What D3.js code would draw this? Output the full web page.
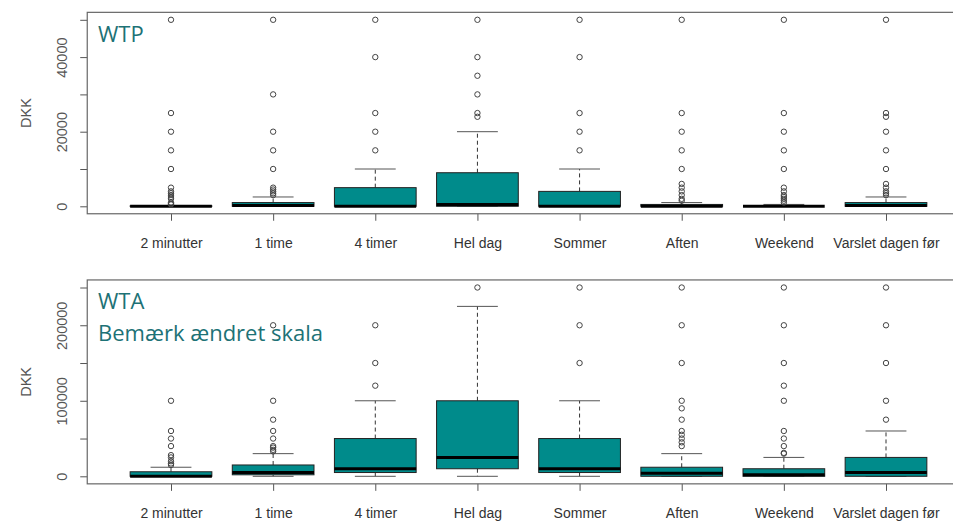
<!DOCTYPE html>
<html>
<head>
<meta charset="utf-8">
<script src="https://cdn.jsdelivr.net/npm/d3@7"></script>
<style>
  html, body { margin: 0; padding: 0; background: #fff; }
  svg { display: block; }
</style>
</head>
<body>
<svg id="chart" width="953" height="521"></svg>
<script>
// Categories shared by both panels
const categories = ["2 minutter", "1 time", "4 timer", "Hel dag", "Sommer", "Aften", "Weekend", "Varslet dagen før"];

// WTP: box statistics per category (DKK)
const wtpLow    = [0, 0, 0, 0, 0, 0, 0, 0];
const wtpQ1     = [0, 0, 0, 0, 0, 0, 0, 0];
const wtpMedian = [0, 200, 0, 500, 0, 0, 0, 200];
const wtpQ3     = [100, 1000, 5000, 9000, 4000, 500, 0, 1000];
const wtpHigh   = [200, 2500, 10000, 20000, 10000, 1000, 500, 2500];
const wtpOutliers = [
  [500, 700, 1000, 2000, 2500, 3000, 3500, 4000, 5000, 10000, 15000, 20000, 25000, 50000],
  [3000, 3500, 4000, 4500, 5000, 10000, 15000, 20000, 30000, 50000],
  [15000, 20000, 25000, 40000, 50000],
  [24000, 25000, 30000, 35000, 40000, 50000],
  [15000, 20000, 25000, 40000, 50000],
  [1500, 2000, 3000, 4000, 5000, 6000, 10000, 15000, 20000, 25000, 50000],
  [1000, 1500, 2000, 2500, 3000, 4000, 5000, 10000, 15000, 20000, 25000, 50000],
  [3000, 3500, 4000, 5000, 6000, 10000, 15000, 20000, 24000, 25000, 50000]
];
const wtpTicks = [0, 10000, 20000, 30000, 40000, 50000];
const wtpTickLabels = [0, 20000, 40000];

// WTA: box statistics per category (DKK)
const wtaLow    = [0, 0, 0, 0, 0, 0, 0, 0];
const wtaQ1     = [0, 2000, 5000, 10000, 5000, 0, 0, 0];
const wtaMedian = [0, 5000, 10000, 25000, 10000, 4000, 2000, 5000];
const wtaQ3     = [6000, 15000, 50000, 100000, 50000, 12000, 10000, 25000];
const wtaHigh   = [12000, 30000, 100000, 225000, 100000, 30000, 25000, 60000];
const wtaOutliers = [
  [15000, 17000, 20000, 25000, 28000, 40000, 50000, 60000, 100000],
  [33000, 35000, 38000, 40000, 50000, 60000, 75000, 100000, 200000],
  [120000, 150000, 200000],
  [250000],
  [150000, 200000, 250000],
  [40000, 45000, 50000, 55000, 60000, 75000, 90000, 100000, 150000, 200000, 250000],
  [30000, 31000, 40000, 50000, 60000, 100000, 120000, 150000, 200000, 250000],
  [75000, 100000, 150000, 200000, 250000]
];
const wtaTicks = [0, 50000, 100000, 150000, 200000, 250000];
const wtaTickLabels = [0, 100000, 200000];

const svg = d3.select("#chart");
const axisFont = "'Liberation Sans', Arial, sans-serif";
const titleFont = "'Open Sans', 'Noto Sans', sans-serif";
const teal = "#008B8B";
const titleColor = "#1d7276";

// Horizontal position of each category (box centres)
const x = d3.scalePoint().domain(categories).range([171, 886]);
const step = x.step();
const boxW = step * 0.8;
const frameLeft = x(categories[0]) - step * 0.82;
const frameRight = x(categories[categories.length - 1]) + step * 0.82;

function drawPanel(cfg) {
  const y = cfg.y;
  const g = svg.append("g");
  const yTop = y(cfg.frameMax), yBottom = y(cfg.frameMin);

  // y axis ticks and rotated labels
  const yAxis = d3.axisLeft(y)
    .tickValues(cfg.ticks)
    .tickSize(7)
    .tickFormat(d => cfg.tickLabels.includes(d) ? String(d) : "");
  const ya = g.append("g").attr("transform", `translate(${frameLeft},0)`).call(yAxis);
  ya.select(".domain").remove();
  ya.selectAll(".tick line").attr("stroke", "#555");
  ya.selectAll(".tick text")
    .attr("transform", "rotate(-90)")
    .attr("x", 0).attr("y", -20).attr("dy", 0)
    .style("text-anchor", "middle")
    .style("font-family", axisFont).style("font-size", "14.5px")
    .attr("fill", "#555");

  // x axis ticks and category labels
  const xAxis = d3.axisBottom(x).tickSize(7);
  const xa = g.append("g").attr("transform", `translate(0,${yBottom})`).call(xAxis);
  xa.select(".domain").remove();
  xa.selectAll(".tick line").attr("stroke", "#555");
  xa.selectAll(".tick text")
    .attr("y", 34).attr("dy", 0)
    .style("font-family", axisFont).style("font-size", "14px")
    .attr("fill", "#333");

  // axis title
  g.append("text")
    .attr("transform", `translate(31,${(yTop + yBottom) / 2}) rotate(-90)`)
    .attr("text-anchor", "middle")
    .style("font-family", axisFont).style("font-size", "14.5px")
    .attr("fill", "#555")
    .text("DKK");

  // boxes
  const rows = categories.map((c, i) => ({
    c, low: cfg.low[i], q1: cfg.q1[i], med: cfg.median[i], q3: cfg.q3[i], high: cfg.high[i], out: cfg.outliers[i]
  }));
  const b = g.selectAll("g.box").data(rows).join("g").attr("class", "box")
    .attr("transform", d => `translate(${x(d.c)},0)`);

  // whiskers (dashed) and staples
  b.append("line").attr("x1", 0).attr("x2", 0)
    .attr("y1", d => y(d.q3)).attr("y2", d => y(d.high))
    .attr("stroke", "#333").attr("stroke-dasharray", "4,3");
  b.append("line").attr("x1", 0).attr("x2", 0)
    .attr("y1", d => y(d.q1)).attr("y2", d => y(d.low))
    .attr("stroke", "#333").attr("stroke-dasharray", "4,3");
  b.append("line").attr("x1", -boxW / 4).attr("x2", boxW / 4)
    .attr("y1", d => y(d.high)).attr("y2", d => y(d.high))
    .attr("stroke", "#555");
  b.append("line").attr("x1", -boxW / 4).attr("x2", boxW / 4)
    .attr("y1", d => y(d.low)).attr("y2", d => y(d.low))
    .attr("stroke", "#555");

  b.append("rect")
    .attr("x", -boxW / 2).attr("width", boxW)
    .attr("y", d => y(d.q3)).attr("height", d => y(d.q1) - y(d.q3))
    .attr("fill", teal).attr("stroke", "#222").attr("stroke-width", 1);
  b.append("line").attr("x1", -boxW / 2).attr("x2", boxW / 2)
    .attr("y1", d => y(d.med)).attr("y2", d => y(d.med))
    .attr("stroke", "#000").attr("stroke-width", 3);

  // outliers
  b.selectAll("circle").data(d => d.out).join("circle")
    .attr("cx", 0).attr("cy", v => y(v)).attr("r", 2.7)
    .attr("fill", "none").attr("stroke", "#444").attr("stroke-width", 1);

  // plot frame
  g.append("rect")
    .attr("x", frameLeft).attr("y", yTop)
    .attr("width", frameRight - frameLeft).attr("height", yBottom - yTop)
    .attr("fill", "none").attr("stroke", "#666").attr("stroke-width", 1.2);

  // panel title
  cfg.title.forEach((t, i) => {
    g.append("text")
      .attr("x", 98).attr("y", cfg.titleY + i * 32)
      .style("font-family", titleFont).style("font-size", "22px")
      .attr("fill", titleColor)
      .text(t);
  });
}

drawPanel({
  y: d3.scaleLinear().domain([0, 50000]).range([206.3, 19.8]),
  frameMin: -2000, frameMax: 52000,
  low: wtpLow, q1: wtpQ1, median: wtpMedian, q3: wtpQ3, high: wtpHigh, outliers: wtpOutliers,
  ticks: wtpTicks, tickLabels: wtpTickLabels,
  title: ["WTP"], titleY: 42
});

drawPanel({
  y: d3.scaleLinear().domain([0, 250000]).range([476.3, 287.5]),
  frameMin: -10000, frameMax: 260000,
  low: wtaLow, q1: wtaQ1, median: wtaMedian, q3: wtaQ3, high: wtaHigh, outliers: wtaOutliers,
  ticks: wtaTicks, tickLabels: wtaTickLabels,
  title: ["WTA", "Bemærk ændret skala"], titleY: 309
});
</script>
</body>
</html>
